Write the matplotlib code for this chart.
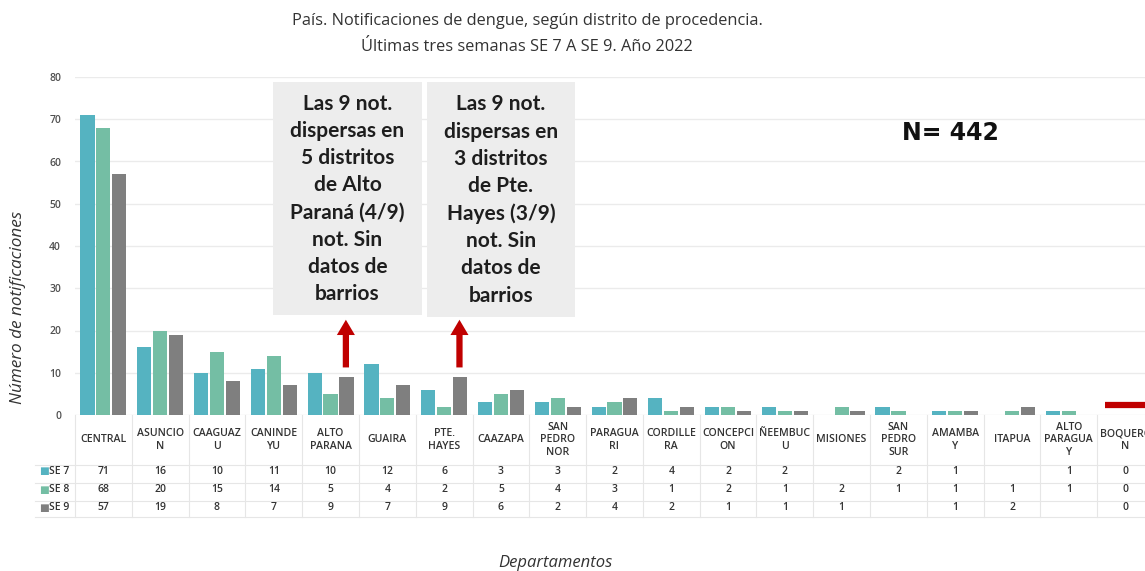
import matplotlib
matplotlib.use("Agg")
from matplotlib import pyplot as plt
from matplotlib import transforms
from matplotlib.lines import Line2D
from matplotlib.patches import Rectangle
import numpy as np

plt.rcParams['font.family'] = ['Open Sans', 'DejaVu Sans']

categories = ["CENTRAL", "ASUNCION", "CAAGUAZU", "CANINDEYU", "ALTO PARANA", "GUAIRA",
              "PTE. HAYES", "CAAZAPA", "SAN PEDRO NOR", "PARAGUARI", "CORDILLERA",
              "CONCEPCION", "ÑEEMBUCU", "MISIONES", "SAN PEDRO SUR", "AMAMBAY",
              "ITAPUA", "ALTO PARAGUAY", "BOQUERON"]
header_labels = ["CENTRAL", "ASUNCIO\nN", "CAAGUAZ\nU", "CANINDE\nYU", "ALTO\nPARANA", "GUAIRA",
                 "PTE.\nHAYES", "CAAZAPA", "SAN\nPEDRO\nNOR", "PARAGUA\nRI", "CORDILLE\nRA",
                 "CONCEPCI\nON", "ÑEEMBUC\nU", "MISIONES", "SAN\nPEDRO\nSUR", "AMAMBA\nY",
                 "ITAPUA", "ALTO\nPARAGUA\nY", "BOQUERO\nN"]
series_names = ["SE 7", "SE 8", "SE 9"]
se7 = [71, 16, 10, 11, 10, 12, 6, 3, 3, 2, 4, 2, 2, None, 2, 1, None, 1, 0]
se8 = [68, 20, 15, 14, 5, 4, 2, 5, 4, 3, 1, 2, 1, 2, 1, 1, 1, 1, 0]
se9 = [57, 19, 8, 7, 9, 7, 9, 6, 2, 4, 2, 1, 1, 1, None, 1, 2, None, 0]
colors = ["#55B3C1", "#74BEA4", "#7F7F7F"]

note_alto = "Las 9 not.\ndispersas en\n5 distritos\nde Alto\nParaná (4/9)\nnot. Sin\ndatos de\nbarrios"
note_hayes = "Las 9 not.\ndispersas en\n3 distritos\nde Pte.\nHayes (3/9)\nnot. Sin\ndatos de\nbarrios"

W, H = 1145, 571
fig = plt.figure(figsize=(W / 100, H / 100), dpi=100)


def fx(px):
    return px / W


def fy(py):
    return 1 - py / H


# plot area: left edge 75px, 0 at 415px, 80 at 77px, runs past the right edge
ax = fig.add_axes([fx(75), fy(415), (1154 - 75) / W, (415 - 77) / H])

x = np.arange(len(categories))
bw = 0.25
for i, (vals, name) in enumerate(zip([se7, se8, se9], series_names)):
    heights = [0 if v is None else v for v in vals]
    ax.bar(x + (i - 1) * 0.28, heights, bw, color=colors[i], label=name, zorder=3)

ax.set_xlim(-0.5, len(categories) - 0.5)
ax.set_ylim(0, 80)
ax.set_yticks(range(0, 81, 10))
ax.set_xticks([])
ax.grid(axis='y', color='#EBEBEB', linewidth=1, zorder=0)
for s in ax.spines.values():
    s.set_visible(False)
ax.tick_params(axis='y', length=0, pad=10, labelsize=7.5, labelcolor='#505050')
for t in ax.get_yticklabels():
    t.set_fontweight('semibold')

# red arrows pointing at the notes
for idx in [4, 6]:
    ax.annotate("", xy=(idx + 0.27, 23.2), xytext=(idx + 0.27, 10.6),
                arrowprops=dict(arrowstyle="simple,head_length=1.1,head_width=1.3,tail_width=0.45",
                                color="#C00000", lw=0), zorder=5)
# red mark at BOQUERON
ax.plot([17.63, 18.6], [2.4, 2.4], color="#C00000", linewidth=4.5, solid_capstyle='butt',
        zorder=5, clip_on=False)

# note boxes
fig.patches.append(Rectangle((fx(273), fy(315)), fx(422 - 273), (315 - 82) / H,
                             transform=fig.transFigure, facecolor="#EDEDED", edgecolor='none'))
fig.patches.append(Rectangle((fx(427), fy(317)), fx(575 - 427), (317 - 82) / H,
                             transform=fig.transFigure, facecolor="#EDEDED", edgecolor='none'))
fig.text(fx(347.5), fy(199), note_alto, ha='center', va='center', fontsize=15,
         family=['Lato', 'DejaVu Sans'], weight='bold', color='#1E1E1E', linespacing=1.45)
fig.text(fx(501), fy(200), note_hayes, ha='center', va='center', fontsize=15,
         family=['Lato', 'DejaVu Sans'], weight='bold', color='#1E1E1E', linespacing=1.45)

fig.text(fx(950), fy(133), "N= 442", ha='center', va='center', fontsize=17,
         weight='bold', family=['DejaVu Sans'], color='#111111')

# titles and axis labels
fig.text(fx(527), fy(21), "País. Notificaciones de dengue, según distrito de procedencia.",
         ha='center', va='center', fontsize=11.8, color='#333333')
fig.text(fx(527), fy(47), "Últimas tres semanas SE 7 A SE 9. Año 2022",
         ha='center', va='center', fontsize=11.8, color='#333333')
fig.text(fx(18), fy(307), "Número de notificaciones", rotation=90, ha='center', va='center',
         fontsize=12.3, style='italic', color='#333333')
fig.text(fx(555), fy(563), "Departamentos", ha='center', va='center',
         fontsize=12, style='italic', color='#333333')

# data table under the bars
tr = transforms.blended_transform_factory(ax.transData, fig.transFigure)
grid_c = '#E6E6E6'
for k in range(len(categories) + 1):
    fig.add_artist(Line2D([k - 0.5, k - 0.5], [fy(415), fy(517)], transform=tr,
                          color=grid_c, linewidth=0.8))
for py in [465, 483, 501, 517]:
    fig.add_artist(Line2D([fx(35), 1], [fy(py), fy(py)], transform=fig.transFigure,
                          color=grid_c, linewidth=0.8))

for k, lab in enumerate(header_labels):
    fig.text(k, fy(440), lab, transform=tr, ha='center', va='center', fontsize=7.6,
             weight='semibold', color='#333333', linespacing=1.2)

row_y = [471, 490, 508]
for i, vals in enumerate([se7, se8, se9]):
    fig.text(fx(44), fy(row_y[i]), "■", ha='center', va='center', fontsize=7.5,
             color=colors[i], family=['DejaVu Sans'])
    fig.text(fx(49), fy(row_y[i]), series_names[i], ha='left', va='center', fontsize=7.5,
             weight='semibold', color='#333333')
    for k, v in enumerate(vals):
        if v is None:
            continue
        fig.text(k, fy(row_y[i]), str(v), transform=tr, ha='center', va='center',
                 fontsize=7.5, weight='semibold', color='#333333')

fig.savefig("out.png", dpi=100)
